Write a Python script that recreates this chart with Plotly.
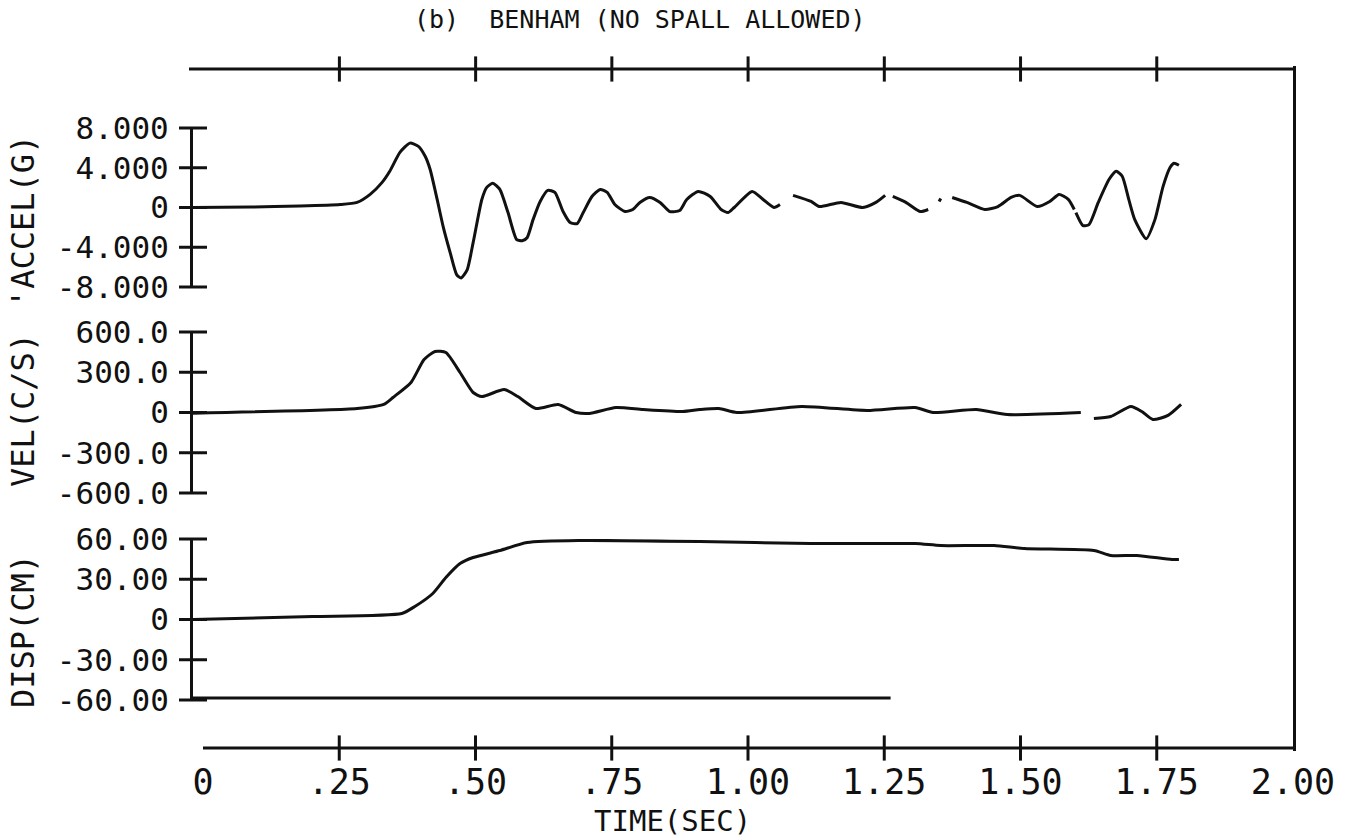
import plotly.graph_objects as go

# ---------------- data ----------------
accel_t = [0.000, 0.105, 0.196, 0.270, 0.301, 0.325, 0.347, 0.361, 0.380, 0.398,
           0.413, 0.426, 0.435, 0.448, 0.459, 0.472, 0.484, 0.492, 0.503, 0.514,
           0.530, 0.539, 0.550, 0.563, 0.578, 0.594, 0.604, 0.613, 0.624, 0.637,
           0.651, 0.664, 0.679, 0.692, 0.705, 0.716, 0.732, 0.747, 0.760, 0.774,
           0.793, 0.807, 0.820, 0.838, 0.857, 0.875, 0.893, 0.906, 0.927, 0.949,
           0.969, 0.982, 0.993, 1.026, 1.046, 1.066, 1.077, None, 1.101, 1.134,
           1.149, 1.189, 1.229, 1.253, 1.270, None, 1.284, 1.308, 1.334, 1.349,
           None, 1.369, 1.372, None, 1.393, 1.420, 1.453, 1.477, 1.501, 1.517,
           1.549, 1.572, 1.589, 1.606, 1.617, None, 1.620, 1.633, 1.644, 1.661,
           1.681, 1.694, 1.705, 1.717, 1.728, 1.749, 1.765, 1.780, 1.793, 1.800,
           1.809]
accel_g = [0.00, 0.05, 0.15, 0.30, 0.51, 1.32, 2.53, 3.65, 5.57, 6.48,
           6.18, 5.16, 3.85, 0.81, -1.92, -4.56, -6.78, -7.09, -6.28, -3.54,
           0.81, 2.03, 2.43, 1.82, -0.51, -3.24, -3.34, -3.04, -1.22, 0.61,
           1.72, 1.52, -0.41, -1.52, -1.62, -0.51, 1.11, 1.82, 1.52, 0.30,
           -0.41, -0.20, 0.51, 1.01, 0.51, -0.41, -0.30, 0.81, 1.62, 1.11,
           -0.20, -0.51, 0.00, 1.62, 0.81, 0.00, 0.30, None, 1.22, 0.61,
           0.10, 0.51, 0.00, 0.51, 1.22, None, 1.11, 0.51, -0.41, -0.20,
           None, 0.61, 0.91, None, 1.01, 0.51, -0.20, 0.10, 1.01, 1.22,
           0.10, 0.61, 1.32, 0.81, -0.20, None, -0.51, -1.82, -1.72, 0.51,
           2.84, 3.65, 3.14, 0.81, -1.22, -3.14, -1.22, 2.13, 4.05, 4.46,
           4.25]

vel_t = [0.000, 0.301, 0.350, 0.367, 0.400, 0.424, 0.444, 0.464, 0.490, 0.514,
         0.530, 0.571, 0.596, 0.629, 0.670, 0.703, 0.727, 0.776, 0.826, 0.899,
         0.930, 0.965, 0.998, 1.117, 1.237, 1.325, 1.358, 1.437, 1.494, 1.629,
         None, 1.653, 1.684, 1.721, 1.741, 1.761, 1.789, 1.813]
vel_cs = [-5, 30, 60, 112, 224, 395, 455, 447, 298, 149,
          119, 171, 119, 30, 60, 0, -7, 37, 22, 7,
          22, 30, 0, 45, 15, 37, 0, 22, -15, 0,
          None, -45, -30, 45, 7, -52, -22, 60]

disp_t = [0.000, 0.220, 0.383, 0.407, 0.440, 0.464, 0.490, 0.514, 0.563, 0.613,
          0.710, 0.930, 1.134, 1.325, 1.372, 1.470, 1.525, 1.653, 1.684, 1.732,
          1.796, 1.809]
disp_cm = [0.0, 2.2, 4.5, 9.7, 19.4, 31.3, 41.7, 46.2, 51.4, 57.4,
           58.9, 58.1, 56.6, 56.6, 55.1, 55.1, 52.9, 51.4, 47.7, 47.7,
           44.7, 44.7]

base_t = [0.0, 1.28]
base_cm = [-58.5, -58.5]

time_ticks = [0, 0.25, 0.50, 0.75, 1.00, 1.25, 1.50, 1.75, 2.00]
time_labels = ["0", ".25", ".50", ".75", "1.00", "1.25", "1.50", "1.75", "2.00"]
inner_ticks = time_ticks[1:-1]
top_start = -0.026

accel_ticks = [-8, -4, 0, 4, 8]
accel_labels = ["-8.000", "-4.000", "0", "4.000", "8.000"]
vel_ticks = [-600, -300, 0, 300, 600]
vel_labels = ["-600.0", "-300.0", "0", "300.0", "600.0"]
disp_ticks = [-60, -30, 0, 30, 60]
disp_labels = ["-60.00", "-30.00", "0", "30.00", "60.00"]

title_text = "(b)\u00a0 BENHAM (NO SPALL ALLOWED)"
x_title = "TIME(SEC)"
y_titles = ["'ACCEL(G)", "VEL(C/S)", "DISP(CM)"]

# ---------------- figure ----------------
W, H = 1363, 840
FONT = "DejaVu Sans Mono"
INK = "#111111"


def px(xp):
    return xp / W


def py(yp):
    return 1 - yp / H


fig = go.Figure()

line_style = dict(color=INK, width=3, shape="spline", smoothing=0.6)
tick_marker = dict(symbol="line-ew", size=20, line=dict(color=INK, width=3))
tick_marker_v = dict(symbol="line-ns", size=18, line=dict(color=INK, width=3))

# curves
fig.add_trace(go.Scatter(x=accel_t, y=accel_g, mode="lines", line=line_style,
                         connectgaps=False, xaxis="x", yaxis="y", hoverinfo="skip"))
fig.add_trace(go.Scatter(x=vel_t, y=vel_cs, mode="lines", line=line_style,
                         connectgaps=False, xaxis="x2", yaxis="y2", hoverinfo="skip"))
fig.add_trace(go.Scatter(x=disp_t, y=disp_cm, mode="lines", line=line_style,
                         connectgaps=False, xaxis="x3", yaxis="y3", hoverinfo="skip"))
fig.add_trace(go.Scatter(x=base_t, y=base_cm, mode="lines", line=dict(color=INK, width=3),
                         xaxis="x3", yaxis="y3", hoverinfo="skip"))

# crossing tick marks on the panel y axes
for ticks, xa, ya in [(accel_ticks, "x", "y"), (vel_ticks, "x2", "y2"), (disp_ticks, "x3", "y3")]:
    fig.add_trace(go.Scatter(x=[0] * len(ticks), y=ticks, mode="markers",
                             marker=tick_marker, cliponaxis=False,
                             xaxis=xa, yaxis=ya, hoverinfo="skip"))

# bottom time axis
fig.add_trace(go.Scatter(x=[time_ticks[0], time_ticks[-1]], y=[0, 0], mode="lines",
                         line=dict(color=INK, width=3.2), xaxis="x4", yaxis="y4", hoverinfo="skip"))
fig.add_trace(go.Scatter(x=inner_ticks, y=[0] * len(inner_ticks), mode="markers",
                         marker=tick_marker_v, cliponaxis=False,
                         xaxis="x4", yaxis="y4", hoverinfo="skip"))
# top time axis
fig.add_trace(go.Scatter(x=[top_start, time_ticks[-1]], y=[0, 0], mode="lines",
                         line=dict(color=INK, width=3.2), xaxis="x5", yaxis="y5", hoverinfo="skip"))
fig.add_trace(go.Scatter(x=inner_ticks, y=[0] * len(inner_ticks), mode="markers",
                         marker=tick_marker_v, cliponaxis=False,
                         xaxis="x5", yaxis="y5", hoverinfo="skip"))
# right frame (axis line of y6)
fig.add_trace(go.Scatter(x=[None], y=[None], mode="markers", xaxis="x4", yaxis="y6",
                         hoverinfo="skip"))

panel_dom_x = [px(193), px(1283)]
frame_dom_x = [px(203), px(1293)]

hidden_x = dict(range=[0, 2], visible=False, showgrid=False, zeroline=False,
                automargin=False)


def yax(rng, ticks, labels, top, bottom, anchor):
    return dict(range=rng, domain=[py(bottom), py(top)], anchor=anchor,
                tickvals=ticks, ticktext=labels, ticks="", ticklen=0,
                ticklabelstandoff=15, automargin=False,
                tickfont=dict(family=FONT, size=31, color=INK),
                showline=True, linewidth=3, linecolor=INK,
                showgrid=False, zeroline=False)


fig.update_layout(
    template="none",
    width=W, height=H, autosize=False,
    margin=dict(l=0, r=0, t=0, b=0, pad=0, autoexpand=False),
    paper_bgcolor="white", plot_bgcolor="rgba(0,0,0,0)",
    showlegend=False,
    xaxis=dict(hidden_x, domain=panel_dom_x, anchor="y"),
    xaxis2=dict(hidden_x, domain=panel_dom_x, anchor="y2", matches="x"),
    xaxis3=dict(hidden_x, domain=panel_dom_x, anchor="y3", matches="x"),
    yaxis=yax([-8, 8], accel_ticks, accel_labels, 128, 287, "x"),
    yaxis2=yax([-600, 600], vel_ticks, vel_labels, 332, 493, "x2"),
    yaxis3=yax([-60, 60], disp_ticks, disp_labels, 539, 700, "x3"),
    xaxis4=dict(range=[0, 2], domain=frame_dom_x, anchor="y4",
                tickvals=time_ticks, ticktext=time_labels, ticks="", ticklen=0,
                ticklabelstandoff=0, automargin=False,
                tickfont=dict(family=FONT, size=35, color=INK),
                showline=False, showgrid=False, zeroline=False),
    yaxis4=dict(range=[-1, 1], domain=[py(758), py(738)], anchor="x4", visible=False,
                automargin=False),
    xaxis5=dict(range=[top_start, 2], domain=[px(189), px(1293)], anchor="y5",
                visible=False, automargin=False),
    yaxis5=dict(range=[-1, 1], domain=[py(79), py(59)], anchor="x5", visible=False,
                automargin=False),
    yaxis6=dict(range=[0, 1], domain=[py(751), py(66)], anchor="x4", side="right",
                showline=True, linewidth=3, linecolor=INK, showticklabels=False,
                ticks="", showgrid=False, zeroline=False, automargin=False),
)

annotations = [
    dict(text=title_text, x=px(640), y=py(19), xref="paper", yref="paper",
         showarrow=False, font=dict(family=FONT, size=25, color=INK),
         xanchor="center", yanchor="middle"),
    dict(text=x_title, x=px(672), y=py(821), xref="paper", yref="paper",
         showarrow=False, font=dict(family=FONT, size=29, color=INK),
         xanchor="center", yanchor="middle"),
]
for txt, yc in zip(y_titles, [222, 410, 631]):
    annotations.append(dict(text=txt, x=px(23), y=py(yc), xref="paper", yref="paper",
                            showarrow=False, textangle=-90,
                            font=dict(family=FONT, size=32, color=INK),
                            xanchor="center", yanchor="middle"))
fig.update_layout(annotations=annotations)

fig.write_html("out.html",
               config={"displayModeBar": False},
               post_script="document.body.style.margin='0';document.body.style.padding='0';")
